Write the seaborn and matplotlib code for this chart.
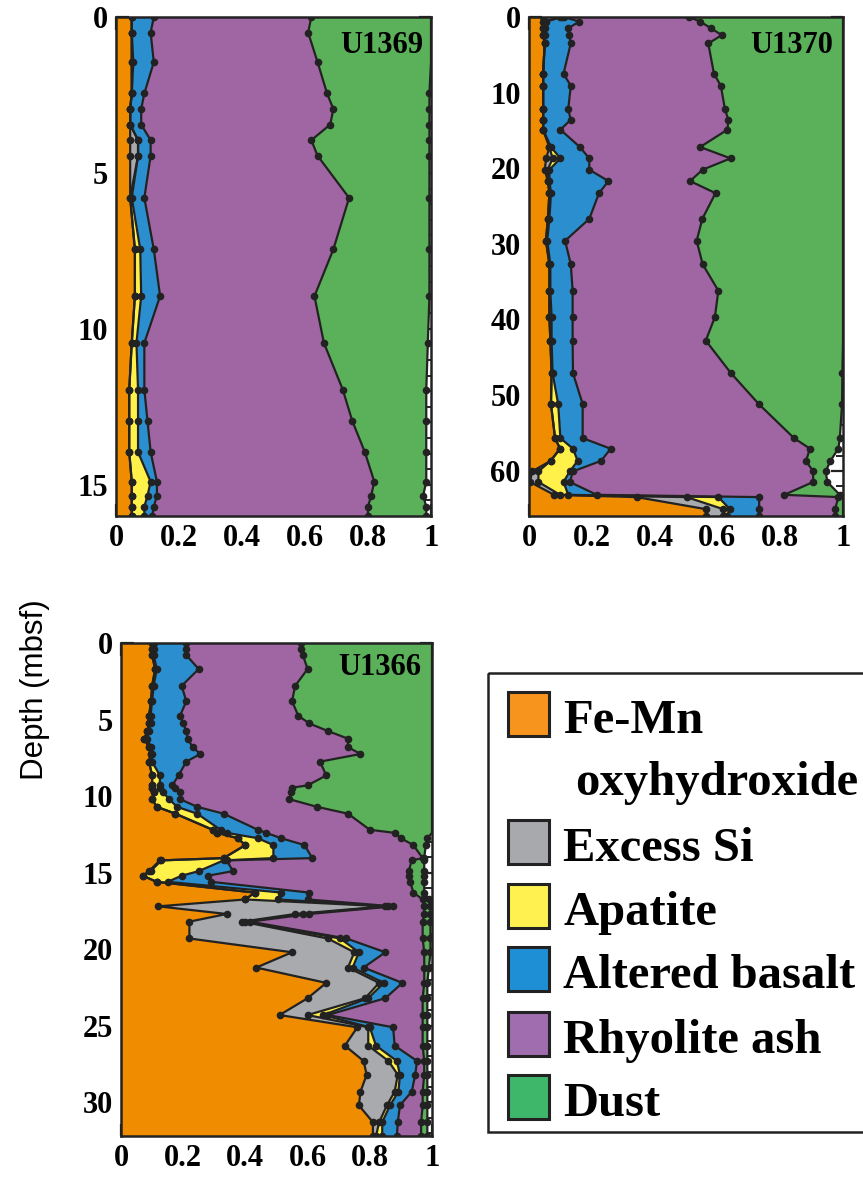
import numpy as np
import matplotlib
matplotlib.use("Agg")
import matplotlib.pyplot as plt
from matplotlib.ticker import MultipleLocator, FuncFormatter
from matplotlib.patches import Rectangle
import seaborn as sns

sns.set_theme(style="ticks")
plt.rcParams['font.family'] = ['Liberation Serif', 'DejaVu Serif']
plt.rcParams['font.weight'] = 'bold'
plt.rcParams['text.color'] = 'black'
plt.rcParams['axes.labelcolor'] = 'black'

# legend / component names and colours
components = ['Fe-Mn', 'Excess Si', 'Apatite', 'Altered basalt', 'Rhyolite ash', 'Dust']
fill_colors = ['#F08C00', '#A8AAAD', '#FFF04A', '#2B8FCF', '#A066A3', '#5BB05A']
legend_colors = ['#F7941D', '#A7A9AC', '#FFF14F', '#1E8FD5', '#A06DAE', '#3EB76A']
line_color = '#222222'

# ---------------------------------------------------------
# U1369 : cumulative upper edge of each component (fraction)
# ---------------------------------------------------------
u1369_depth = [0.0, 0.5, 1.45, 2.45, 2.95, 3.45, 3.95, 4.45, 5.8, 7.45, 8.95,
               10.45, 11.95, 12.95, 13.95, 14.9, 15.35, 15.7, 16.0]
u1369_femn = [0.05, 0.05, 0.05, 0.05, 0.045, 0.045, 0.045, 0.045, 0.045, 0.06, 0.06,
              0.05, 0.042, 0.042, 0.042, 0.05, 0.05, 0.05, 0.05]
u1369_si = [0.05, 0.05, 0.05, 0.05, 0.045, 0.045, 0.07, 0.07, 0.045, 0.06, 0.06,
            0.05, 0.042, 0.042, 0.042, 0.05, 0.05, 0.05, 0.05]
u1369_apatite = [0.05, 0.05, 0.055, 0.05, 0.045, 0.045, 0.07, 0.07, 0.05, 0.077, 0.08,
                 0.065, 0.07, 0.07, 0.07, 0.11, 0.10, 0.09, 0.09]
u1369_basalt = [0.12, 0.11, 0.12, 0.09, 0.08, 0.08, 0.11, 0.11, 0.09, 0.12, 0.14,
                0.09, 0.09, 0.10, 0.11, 0.13, 0.13, 0.12, 0.115]
u1369_rhyolite = [0.62, 0.61, 0.64, 0.67, 0.69, 0.68, 0.62, 0.64, 0.74, 0.69, 0.63,
                  0.66, 0.72, 0.75, 0.79, 0.82, 0.81, 0.80, 0.80]
u1369_dust = [1.0, 1.0, 1.0, 0.995, 0.995, 0.995, 0.995, 0.995, 0.995, 0.995, 0.995,
              0.99, 0.985, 0.985, 0.985, 0.985, 0.975, 0.985, 0.985]

# ---------------------------------------------------------
# U1370
# ---------------------------------------------------------
u1370_depth = [0.0, 0.6, 1.5, 2.4, 3.5, 7.5, 9.1, 12.2, 13.6, 14.9, 17.2, 18.7,
               20.2, 21.7, 23.3, 26.7, 29.6, 32.7, 36.2, 39.7, 42.8, 47.1, 51.2,
               55.7, 57.1, 58.7, 60.1, 61.5, 63.2, 63.5, 65.1, 66.0]
u1370_femn = [0.045, 0.045, 0.045, 0.045, 0.05, 0.045, 0.045, 0.045, 0.045, 0.045,
              0.065, 0.055, 0.05, 0.06, 0.065, 0.06, 0.054, 0.065, 0.065, 0.065,
              0.068, 0.072, 0.07, 0.083, 0.099, 0.069, 0.01, 0.003, 0.08, 0.343,
              0.564, 0.564]
u1370_si = [0.10, 0.05, 0.045, 0.045, 0.05, 0.045, 0.045, 0.045, 0.045, 0.045,
            0.065, 0.075, 0.06, 0.06, 0.065, 0.06, 0.054, 0.065, 0.065, 0.065,
            0.068, 0.072, 0.07, 0.083, 0.099, 0.069, 0.03, 0.03, 0.099, 0.502,
            0.619, 0.619]
u1370_apatite = [0.105, 0.055, 0.05, 0.05, 0.05, 0.045, 0.045, 0.045, 0.045, 0.045,
                 0.07, 0.10, 0.065, 0.065, 0.07, 0.065, 0.058, 0.068, 0.068, 0.072,
                 0.072, 0.075, 0.093, 0.10, 0.14, 0.155, 0.13, 0.11, 0.125, 0.603,
                 0.64, 0.63]
u1370_basalt = [0.11, 0.16, 0.125, 0.128, 0.133, 0.11, 0.133, 0.125, 0.133, 0.10,
                0.162, 0.192, 0.192, 0.253, 0.223, 0.192, 0.115, 0.133, 0.139, 0.139,
                0.139, 0.14, 0.171, 0.171, 0.26, 0.23, 0.14, 0.13, 0.216, 0.733,
                0.733, 0.733]
u1370_rhyolite = [0.51, 0.545, 0.58, 0.614, 0.571, 0.589, 0.611, 0.624, 0.635, 0.632,
                  0.545, 0.642, 0.553, 0.513, 0.594, 0.552, 0.534, 0.553, 0.603, 0.592,
                  0.563, 0.643, 0.732, 0.844, 0.895, 0.882, 0.905, 0.905, 0.813, 0.985,
                  0.975, 0.975]
u1370_dust = [1.0, 1.0, 1.0, 1.0, 1.0, 1.0, 1.0, 1.0, 1.0, 1.0,
              1.0, 1.0, 1.0, 1.0, 1.0, 1.0, 1.0, 1.0, 1.0, 1.0,
              1.0, 0.998, 0.997, 0.99, 0.985, 0.96, 0.945, 0.95, 0.99, 1.0,
              1.0, 1.0]

# ---------------------------------------------------------
# U1366
# ---------------------------------------------------------
u1366_depth = [0.0, 0.4, 0.8, 1.7, 2.8, 3.8, 4.75, 5.25, 5.75, 6.25, 6.8, 7.25,
               7.75, 8.65, 9.3, 9.45, 9.75, 10.2, 10.7, 11.15, 12.2, 12.4, 12.75,
               13.2, 14.05, 14.2, 14.9, 15.2, 15.6, 16.3, 16.75, 17.2, 17.7, 18.2,
               19.3, 20.2, 21.2, 22.2, 23.2, 24.3, 25.1, 26.3, 27.3, 28.2, 29.3,
               30.2, 31.3, 32.2]
u1366_femn = [0.10, 0.10, 0.10, 0.11, 0.10, 0.097, 0.09, 0.09, 0.085, 0.075, 0.09, 0.095,
              0.09, 0.10, 0.10, 0.10, 0.105, 0.10, 0.115, 0.175, 0.295, 0.31, 0.375,
              0.40, 0.33, 0.125, 0.09, 0.07, 0.115, 0.43, 0.40, 0.12, 0.34, 0.22,
              0.22, 0.55, 0.435, 0.66, 0.60, 0.51, 0.76, 0.72, 0.78, 0.79, 0.77,
              0.765, 0.81, 0.81]
u1366_si = [0.10, 0.10, 0.10, 0.11, 0.10, 0.097, 0.09, 0.09, 0.085, 0.075, 0.09, 0.095,
            0.09, 0.10, 0.10, 0.10, 0.105, 0.10, 0.115, 0.175, 0.295, 0.31, 0.375,
            0.40, 0.33, 0.13, 0.095, 0.07, 0.115, 0.43, 0.40, 0.85, 0.56, 0.39,
            0.665, 0.75, 0.73, 0.83, 0.785, 0.60, 0.795, 0.795, 0.86, 0.89, 0.88,
            0.855, 0.83, 0.82]
u1366_apatite = [0.105, 0.105, 0.105, 0.115, 0.105, 0.10, 0.095, 0.095, 0.09, 0.085, 0.095, 0.10,
                 0.10, 0.125, 0.125, 0.125, 0.135, 0.155, 0.18, 0.245, 0.32, 0.34, 0.44,
                 0.49, 0.49, 0.33, 0.25, 0.195, 0.15, 0.515, 0.505, 0.86, 0.585, 0.40,
                 0.705, 0.765, 0.745, 0.845, 0.795, 0.65, 0.80, 0.82, 0.887, 0.897, 0.892,
                 0.865, 0.84, 0.84]
u1366_basalt = [0.21, 0.21, 0.21, 0.25, 0.195, 0.21, 0.19, 0.20, 0.21, 0.215, 0.23, 0.255,
                0.21, 0.185, 0.165, 0.175, 0.19, 0.19, 0.245, 0.33, 0.44, 0.467, 0.515,
                0.59, 0.615, 0.34, 0.36, 0.28, 0.29, 0.605, 0.60, 0.875, 0.605, 0.415,
                0.725, 0.85, 0.78, 0.905, 0.85, 0.665, 0.875, 0.88, 0.952, 0.946, 0.935,
                0.897, 0.89, 0.887]
u1366_rhyolite = [0.58, 0.58, 0.585, 0.60, 0.56, 0.55, 0.57, 0.605, 0.665, 0.73, 0.73, 0.77,
                  0.64, 0.66, 0.60, 0.55, 0.548, 0.541, 0.63, 0.73, 0.80, 0.88, 0.90,
                  0.94, 0.97, 0.935, 0.925, 0.925, 0.93, 0.94, 0.97, 0.975, 0.975, 0.97,
                  0.97, 0.975, 0.975, 0.975, 0.97, 0.97, 0.97, 0.97, 0.975, 0.975, 0.97,
                  0.97, 0.965, 0.965]
u1366_dust = [1.0, 1.0, 1.0, 1.0, 1.0, 1.0, 1.0, 1.0, 1.0, 1.0, 1.0, 1.0,
              1.0, 1.0, 1.0, 1.0, 1.0, 1.0, 1.0, 1.0, 1.0, 1.0, 0.985,
              0.98, 0.975, 0.975, 0.975, 0.975, 0.975, 0.975, 0.99, 0.995, 0.995, 0.995,
              0.995, 0.995, 0.99, 0.985, 0.985, 0.985, 0.985, 0.985, 0.985, 0.985, 0.985,
              0.985, 0.985, 0.985]


def draw_site(ax, depth, edges, name, ymax, major, minor, label_xy):
    depth = np.asarray(depth)
    lower = np.zeros(len(depth))
    for top, col in zip(edges, fill_colors):
        top = np.asarray(top)
        ax.fill_betweenx(depth, lower, top, color=col, lw=0, zorder=1)
        lower = top
    for top in edges:
        top = np.asarray(top)
        # no dots where the edge sits on the right frame (sum = 1)
        marks = list(top < 0.999)
        sns.lineplot(x=top, y=depth, orient='y', sort=False, estimator=None, ax=ax,
                     color=line_color, lw=1.6, marker='o', markersize=5.5,
                     markeredgewidth=0, markevery=marks, zorder=3)
    ax.set_xlim(0, 1)
    ax.set_ylim(ymax, 0)
    ax.set_facecolor('white')
    ax.set_xlabel('')
    ax.set_ylabel('')
    ax.xaxis.set_major_locator(MultipleLocator(0.2))
    ax.xaxis.set_minor_locator(MultipleLocator(0.04))
    ax.yaxis.set_major_locator(MultipleLocator(major))
    ax.yaxis.set_minor_locator(MultipleLocator(minor))
    ax.xaxis.set_major_formatter(FuncFormatter(lambda v, p: '%g' % round(v, 2)))
    ax.tick_params(which='both', direction='in', top=True, right=True,
                   colors=line_color, labelcolor='black', labelsize=22, pad=6)
    ax.tick_params(which='major', length=9, width=1.6)
    ax.tick_params(which='minor', length=5, width=1.4)
    for lab in ax.get_xticklabels() + ax.get_yticklabels():
        lab.set_fontweight('bold')
    for sp in ax.spines.values():
        sp.set_linewidth(1.8)
        sp.set_color(line_color)
        sp.set_zorder(5)
    ax.text(label_xy[0], label_xy[1], name, transform=ax.transAxes, ha='right',
            va='baseline', fontsize=22, fontweight='bold', color='black', zorder=6)


fig = plt.figure(figsize=(8.63, 11.81), dpi=100)
W, H = 863.0, 1181.0

ax1 = fig.add_axes([116 / W, 1 - 516 / H, 315 / W, 499 / H])
ax2 = fig.add_axes([529 / W, 1 - 516 / H, 314 / W, 499 / H])
ax3 = fig.add_axes([121 / W, 1 - 1136 / H, 311 / W, 493 / H])

draw_site(ax1, u1369_depth,
          [u1369_femn, u1369_si, u1369_apatite, u1369_basalt, u1369_rhyolite, u1369_dust],
          'U1369', 16.0, 5, 0.5, (0.975, 0.928))
draw_site(ax2, u1370_depth,
          [u1370_femn, u1370_si, u1370_apatite, u1370_basalt, u1370_rhyolite, u1370_dust],
          'U1370', 66.0, 10, 2, (0.969, 0.928))
draw_site(ax3, u1366_depth,
          [u1366_femn, u1366_si, u1366_apatite, u1366_basalt, u1366_rhyolite, u1366_dust],
          'U1366', 32.2, 5, 1, (0.967, 0.935))

fig.text(35 / W, 1 - 690 / H, 'Depth (mbsf)', rotation=90, ha='center', va='center',
         fontsize=22.5, fontweight='normal', color='black',
         family=['Liberation Sans', 'DejaVu Sans'])

# legend drawn in pixel coordinates
leg = fig.add_axes([486 / W, 1 - 1135 / H, (872 - 486) / W, (1135 - 670) / H])
leg.set_xlim(486, 872)
leg.set_ylim(1135, 670)
leg.set_axis_off()
leg.add_patch(Rectangle((488, 673), 400, 459, fill=False, ec=line_color, lw=1.8))
square_tops = [692, 820, 884, 947, 1012, 1075]
for name, col, y0 in zip(components, legend_colors, square_tops):
    leg.add_patch(Rectangle((508, y0), 41, 44, fc=col, ec=line_color, lw=2.2))
    leg.text(563, y0 + 41, name, fontsize=35, fontweight='bold', va='baseline',
             ha='left', color='black')
leg.text(575, 795, 'oxyhydroxide', fontsize=35, fontweight='bold', va='baseline',
         ha='left', color='black')

fig.savefig('out.png', dpi=100)
